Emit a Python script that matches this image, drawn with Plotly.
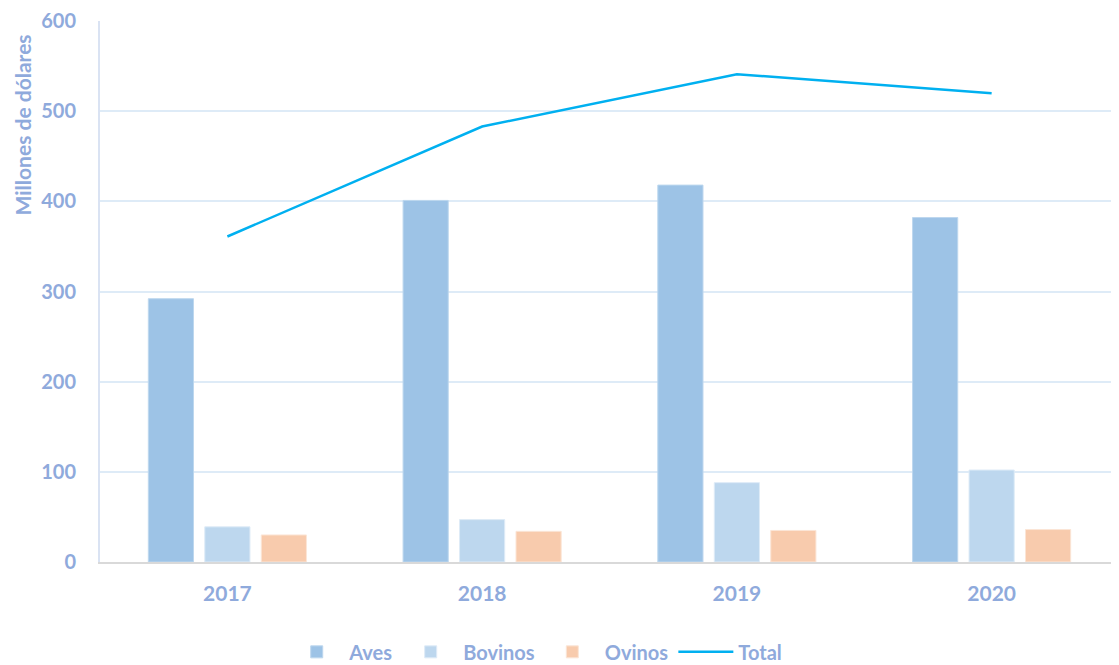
import plotly.graph_objects as go

years = ["2017", "2018", "2019", "2020"]
aves = [292, 401, 418, 382]
bovinos = [39, 47, 88, 102]
ovinos = [30, 34, 35, 36]
total = [361, 483, 541, 520]

txt = "#8FAADC"

fig = go.Figure()
fig.add_bar(x=years, y=aves, name="Aves", marker=dict(color="#9DC3E6", line=dict(color="#BDD7EE", width=1)))
fig.add_bar(x=years, y=bovinos, name="Bovinos", marker=dict(color="#BDD7EE", line=dict(color="#DEEBF7", width=1)))
fig.add_bar(x=years, y=ovinos, name="Ovinos", marker=dict(color="#F8CBAD", line=dict(color="#FBE5D6", width=1)))
fig.add_scatter(x=years, y=total, name="Total", mode="lines", line=dict(color="#00B0F0", width=2.5))

# page body has an 8px margin: compensate so the plot lands where the reference has it
fig.update_layout(
    width=1111, height=657,
    margin=dict(l=92, r=0, t=13, b=103, autoexpand=False),
    paper_bgcolor="white", plot_bgcolor="white",
    barmode="group", bargap=0.335, bargroupgap=0.2,
    font=dict(family="Lato", size=20, color=txt, weight="bold"),
    showlegend=True,
    legend=dict(orientation="h", xref="container", x=0.475, xanchor="center",
                yref="container", y=0.02, yanchor="middle",
                font=dict(family="Lato", size=20, color=txt, weight="bold"), itemwidth=55),
    xaxis=dict(showgrid=False, showline=True, linecolor="#D9D9D9", linewidth=2,
               ticks="", ticklabelstandoff=12,
               tickfont=dict(family="Lato", size=21, color=txt, weight="bold")),
    yaxis=dict(range=[0, 600], dtick=100, showgrid=True, gridcolor="#DEEBF7", gridwidth=2,
               showline=True, linecolor="#DAE3F3", linewidth=2, zeroline=False,
               ticks="", ticklabelstandoff=18, ticklabeloverflow="allow",
               tickfont=dict(family="Lato", size=20, color=txt, weight="bold")),
    annotations=[dict(text="Millones de dólares", textangle=-90, xref="paper", yref="paper",
                      x=0, xshift=-78, y=0.807, xanchor="center", yanchor="middle",
                      showarrow=False, font=dict(family="Lato", size=21, color=txt, weight="bold"))],
)

fig.write_html("out.html")
